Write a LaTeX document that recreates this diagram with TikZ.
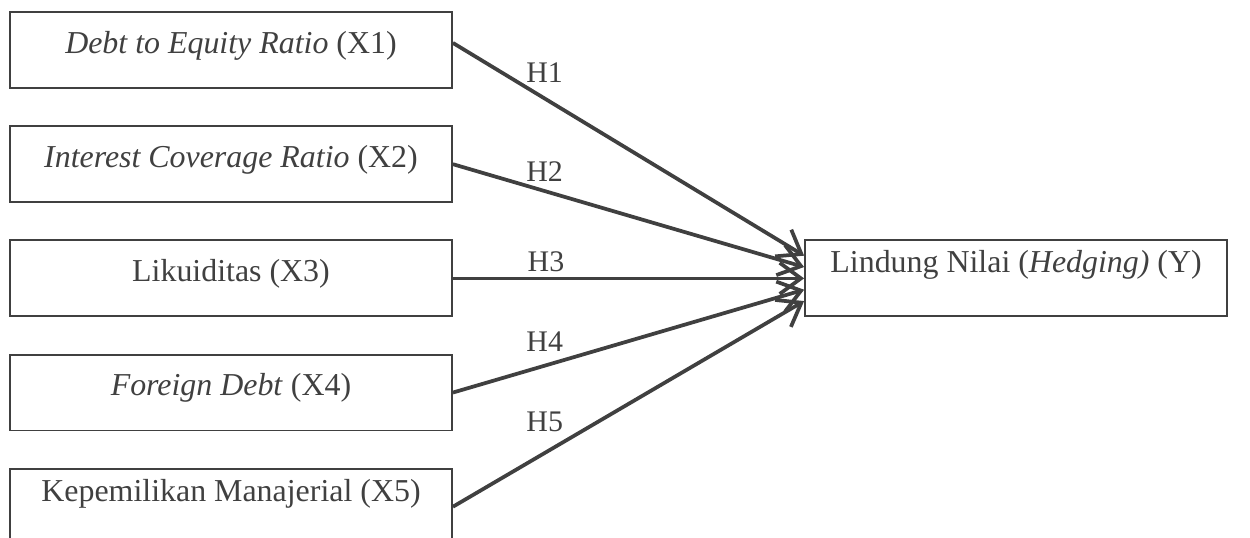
\documentclass[tikz,border=0pt,12pt]{standalone}
\usepackage{fontspec}
\setmainfont{Liberation Serif}
\usetikzlibrary{arrows.meta}
\definecolor{ink}{HTML}{404040}
\tikzset{
block/.style = {draw=ink, line width=0.8pt, text=ink, minimum height=10.7mm, minimum width=62.3mm,
                inner ysep=1pt, font=\fontsize{12.8}{15}\selectfont, text height=3.3mm, text depth=2.4mm},
yblock/.style = {block, minimum width=59.5mm, text depth=5mm},
hyp/.style = {draw=ink, line width=1.5pt, ->},
hlabel/.style = {text=ink, inner sep=2pt}
}

\begin{document}
\begin{tikzpicture}[auto, node distance=1.61cm,
    >={Straight Barb[length=3mm,width=4.4mm]}]
    \useasboundingbox (0,0) rectangle (17.625,-7.572);

    % variabel independen
    \node [block, name=der] at (3.257,-0.705) (der) {\textit{Debt to Equity Ratio} (X1)};
    \node [block, name=icr, below of=der] (icr) {\textit{Interest Coverage Ratio} (X2)};
    \node [block, name=liq, below of=icr] (liq) {Likuiditas (X3)};
    \node [block, name=fdebt, below of=liq] (fdebt) {\textit{Foreign Debt} (X4)};
    \node [block, name=kepman, below of=fdebt, text depth=4.7mm] (kepman)
    {Kepemilikan Manajerial (X5)};

    % variabel dependen
    \node [yblock, name=hedge, right of=liq, node distance=11.07cm] (hedge)
    {Lindung Nilai (\textit{Hedging)} (Y)};

    \draw [hyp] ([yshift=1mm]der.east) -- node [hlabel, pos=0.2, inner sep=0.5pt] {H1} ([yshift=3.2mm]hedge.west);
    \draw [hyp] (icr.east) -- node [hlabel, pos=0.2, inner sep=0.5pt] {H2} ([yshift=1.6mm]hedge.west);
    \draw [hyp] (liq.east) -- node [hlabel, pos=0.265] {H3} (hedge.west);
    \draw [hyp] (fdebt.east) -- node [hlabel, pos=0.333] {H4} ([yshift=-1.6mm]hedge.west);
    \draw [hyp] (kepman.east) -- node [hlabel, pos=0.333] {H5} ([yshift=-3.2mm]hedge.west);

\end{tikzpicture}
\end{document}
